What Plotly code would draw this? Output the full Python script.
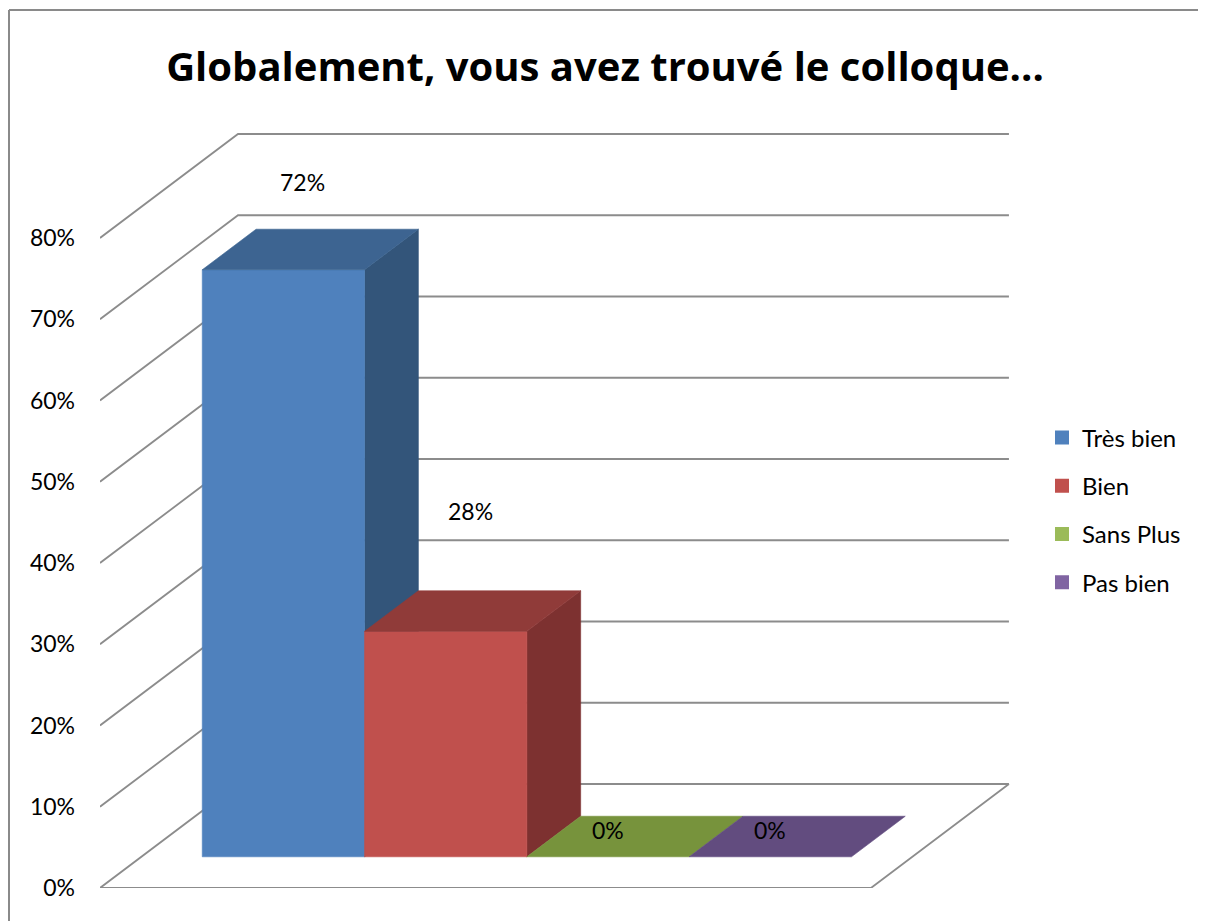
import plotly.graph_objects as go

# ---------------- data ----------------
categories = ["Très bien", "Bien", "Sans Plus", "Pas bien"]
values = [0.7225, 0.2775, 0.0, 0.0]
value_labels = ["72%", "28%", "0%", "0%"]
tick_values = [0.0, 0.1, 0.2, 0.3, 0.4, 0.5, 0.6, 0.7, 0.8]
tick_labels = ["0%", "10%", "20%", "30%", "40%", "50%", "60%", "70%", "80%"]
title_text = "Globalement, vous avez trouvé le colloque..."

# ---------------- styles ----------------
front_colors = ["#4F81BD", "#C0504D", "#9BBB59", "#8064A2"]
top_colors = ["#3D6491", "#903B39", "#77933C", "#624C7F"]
side_colors = ["#33557A", "#7D3130", "#627A31", "#503F69"]
grid_color = "#8C8C8C"
FONT = "Lato"
TITLE_FONT = "Open Sans"

# label offsets (pixels) relative to the front-top centre of each bar
label_xshift = [19, 25, 0, 0]
label_yshift = [88, 120, 27, 27]

# ---------------- geometry / layout constants ----------------
PAGE_OFF = 8                       # browser body margin
W_PX, H_PX = 1206 - PAGE_OFF, 921 - PAGE_OFF
X0_PX, Y0_PX = 100 - PAGE_OFF, 888 - PAGE_OFF   # front-left floor corner
SX, SY = 162.3, 812.5             # px per x-unit (one bar) and per y-unit (100%)
DEPTH_DX_PX, DEPTH_DY_PX = 138, 104
DXu, DYu = DEPTH_DX_PX / SX, DEPTH_DY_PX / SY
FLOOR_W = 4.75
GAP = 0.375
D0, D1 = 0.30, 0.69

MT, MB = 120, H_PX - Y0_PX
ML, MR = X0_PX, 186
plot_w = W_PX - ML - MR
plot_h = H_PX - MT - MB
x_top = plot_w / SX
y_top = plot_h / SY


def proj(x, y, d):
    return x + d * DXu, y + d * DYu


def px_to_paper_x(px):
    return (px - PAGE_OFF - ML) / plot_w


def px_to_paper_y(py):
    return (Y0_PX - (py - PAGE_OFF)) / plot_h


fig = go.Figure()

# ----- walls / gridlines -----
gx, gy = [], []
for t in tick_values:
    for (x, y, d) in [(0, t, 0), (0, t, 1), (FLOOR_W, t, 1)]:
        px, py = proj(x, y, d)
        gx.append(px)
        gy.append(py)
    gx.append(None)
    gy.append(None)
for (x, y, d) in [(0, 0, 0), (FLOOR_W, 0, 0), (FLOOR_W, 0, 1)]:
    px, py = proj(x, y, d)
    gx.append(px)
    gy.append(py)
fig.add_trace(go.Scatter(x=gx, y=gy, mode="lines",
                         line=dict(color=grid_color, width=1.8),
                         hoverinfo="skip", showlegend=False))


def add_face(pts, color):
    xs, ys = [], []
    for p in pts + [pts[0]]:
        px, py = proj(*p)
        xs.append(px)
        ys.append(py)
    fig.add_trace(go.Scatter(x=xs, y=ys, mode="lines", fill="toself",
                             fillcolor=color, line=dict(color=color, width=0.6),
                             hoverinfo="skip", showlegend=False))


# ----- bars -----
for i, v in enumerate(values):
    x0 = GAP + i
    x1 = x0 + 1
    if v > 0:
        add_face([(x1, 0, D0), (x1, 0, D1), (x1, v, D1), (x1, v, D0)], side_colors[i])
        add_face([(x0, 0, D0), (x1, 0, D0), (x1, v, D0), (x0, v, D0)], front_colors[i])
    add_face([(x0, v, D0), (x1, v, D0), (x1, v, D1), (x0, v, D1)], top_colors[i])

# ----- data labels -----
for i, v in enumerate(values):
    lx, ly = proj(GAP + i + 0.5, v, D0)
    fig.add_annotation(x=lx, y=ly, text=value_labels[i], showarrow=False,
                       xshift=label_xshift[i], yshift=label_yshift[i],
                       font=dict(family=FONT, size=23, color="#000000"),
                       xanchor="center", yanchor="middle")

# ----- legend entries -----
for i, name in enumerate(categories):
    fig.add_trace(go.Scatter(x=[None], y=[None], mode="markers", name=name,
                             legendgroup=name,
                             marker=dict(symbol="square", size=14, color=front_colors[i]),
                             hoverinfo="skip"))

# ----- chart border (top and left edge) -----
fig.add_shape(type="line", xref="paper", yref="paper",
              x0=px_to_paper_x(9), y0=px_to_paper_y(10),
              x1=px_to_paper_x(1205), y1=px_to_paper_y(10),
              line=dict(color="#8A8A8A", width=2))
fig.add_shape(type="line", xref="paper", yref="paper",
              x0=px_to_paper_x(9), y0=px_to_paper_y(10),
              x1=px_to_paper_x(9), y1=px_to_paper_y(925),
              line=dict(color="#8A8A8A", width=2))

fig.update_layout(
    width=W_PX, height=H_PX,
    margin=dict(l=ML, r=MR, t=MT, b=MB, autoexpand=False),
    paper_bgcolor="white", plot_bgcolor="white",
    hovermode=False,
    title=dict(text="<b>" + title_text + "</b>", xref="container", yref="container",
               x=(605 - PAGE_OFF) / W_PX, y=1 - (67 - PAGE_OFF) / H_PX,
               xanchor="center", yanchor="middle",
               font=dict(family=TITLE_FONT, size=40, color="#000000")),
    xaxis=dict(range=[0, x_top], visible=False, fixedrange=True),
    yaxis=dict(range=[0, y_top], tickvals=tick_values, ticktext=tick_labels,
               showgrid=False, zeroline=False, showline=False, ticks="",
               ticklabelstandoff=24, fixedrange=True,
               tickfont=dict(family=FONT, size=23, color="#000000")),
    legend=dict(x=px_to_paper_x(1042), y=px_to_paper_y(510), xanchor="left",
                yanchor="middle", tracegroupgap=14, itemwidth=30,
                font=dict(family=FONT, size=24, color="#000000"),
                bgcolor="rgba(0,0,0,0)"),
    showlegend=True,
)

fig.write_html("out.html")
